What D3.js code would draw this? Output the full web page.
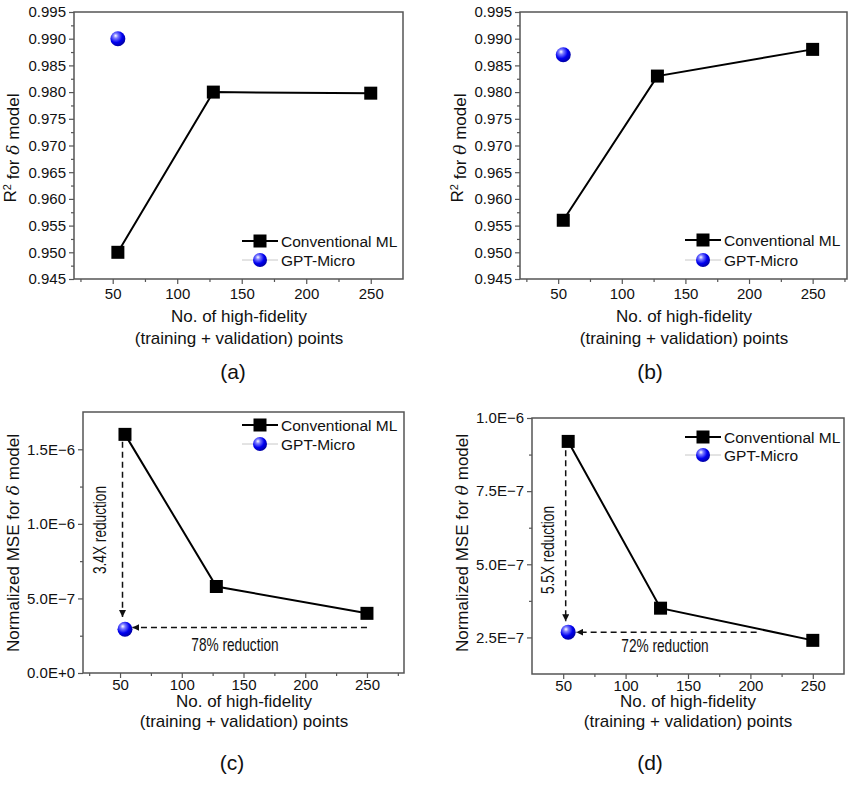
<!DOCTYPE html>
<html lang="en">
<head>
<meta charset="UTF-8">
<title>GPT-Micro vs Conventional ML</title>
<script src="https://d3js.org/d3.v7.min.js"></script>
<style>
  body { margin: 0; background: #fff; }
  text { font-family: "Liberation Sans", Arial, sans-serif; fill: #111; }
</style>
</head>
<body>
<svg id="fig" width="854" height="785"></svg>
<script>
// ---- data ----
const seriesNames = ["Conventional ML", "GPT-Micro"];
const hfPoints = [54, 128, 250];
const gptPoints = [54];

const r2DeltaML = [0.950, 0.980, 0.9798];
const r2DeltaGPT = [0.990];
const r2ThetaML = [0.956, 0.983, 0.988];
const r2ThetaGPT = [0.987];
const mseDeltaML = [1.6e-6, 5.8e-7, 4.0e-7];
const mseDeltaGPT = [2.93e-7];
const mseThetaML = [9.2e-7, 3.5e-7, 2.4e-7];
const mseThetaGPT = [2.68e-7];

const xTicks = [50, 100, 150, 200, 250];
const r2Ticks = [0.945, 0.950, 0.955, 0.960, 0.965, 0.970, 0.975, 0.980, 0.985, 0.990, 0.995];
const mseDeltaTicks = [0, 5e-7, 1e-6, 1.5e-6];
const mseDeltaTickLabels = ["0.0E+0", "5.0E\u22127", "1.0E\u22126", "1.5E\u22126"];
const mseThetaTicks = [2.5e-7, 5e-7, 7.5e-7, 1e-6];
const mseThetaTickLabels = ["2.5E\u22127", "5.0E\u22127", "7.5E\u22127", "1.0E\u22126"];

const panelLabels = ["(a)", "(b)", "(c)", "(d)"];
const xTitle = ["No. of high-fidelity", "(training + validation) points"];
const foldLabels = ["3.4X reduction", "5.5X reduction"];
const pctLabels = ["78% reduction", "72% reduction"];

const svg = d3.select("#fig");

const defs = svg.append("defs");
const grad = defs.append("radialGradient").attr("id", "ball")
  .attr("cx", "38%").attr("cy", "35%").attr("r", "65%").attr("fx", "35%").attr("fy", "30%");
grad.append("stop").attr("offset", "0%").attr("stop-color", "#ffffff");
grad.append("stop").attr("offset", "25%").attr("stop-color", "#7a7aff");
grad.append("stop").attr("offset", "65%").attr("stop-color", "#0000f0");
grad.append("stop").attr("offset", "100%").attr("stop-color", "#0000a8");
defs.append("marker").attr("id", "arrow")
  .attr("viewBox", "0 0 10 10").attr("refX", 10).attr("refY", 5)
  .attr("markerWidth", 7).attr("markerHeight", 7).attr("markerUnits", "userSpaceOnUse")
  .attr("orient", "auto")
  .append("path").attr("d", "M0,0 L10,5 L0,10 z").attr("fill", "#111");

function yTitle(t, greek) {
  t.append("tspan").text(greek.prefix);
  if (greek.sup) {
    t.append("tspan").attr("dy", "-0.45em").attr("font-size", "11px").text("2");
    t.append("tspan").attr("dy", "0.45em").text(" for ");
  } else {
    t.append("tspan").text(" for ");
  }
  t.append("tspan").attr("font-style", "italic").attr("font-family", "'DejaVu Serif', serif").text(greek.sym);
  t.append("tspan").text(" model");
}

function panel(p) {
  const g = svg.append("g");
  const x = d3.scaleLinear().domain(p.xDomain).range([p.left, p.right]);
  const y = d3.scaleLinear().domain(p.yDomain).range([p.bottom, p.top]);

  const clean = sel => {
    sel.select(".domain").remove();
    sel.selectAll(".tick line").attr("stroke", "#555").attr("stroke-width", 1.2);
    sel.selectAll("text").attr("font-size", "15px").attr("fill", "#111")
      .attr("font-family", "'Liberation Sans', Arial, sans-serif");
  };

  const xMinor = d3.range(25, p.xDomain[1], 25).filter(v => v > p.xDomain[0] && !xTicks.includes(v));
  g.append("g").attr("transform", `translate(0,${p.bottom})`)
    .call(d3.axisBottom(x).tickValues(xMinor).tickSize(3).tickFormat(""))
    .call(clean);
  g.append("g").attr("transform", `translate(0,${p.bottom})`)
    .call(d3.axisBottom(x).tickValues(xTicks).tickSize(5).tickPadding(p.xPad).tickFormat(d3.format("d")))
    .call(clean);

  g.append("g").attr("transform", `translate(${p.left},0)`)
    .call(d3.axisLeft(y).tickValues(p.yMinor).tickSize(3).tickFormat(""))
    .call(clean);
  g.append("g").attr("transform", `translate(${p.left},0)`)
    .call(d3.axisLeft(y).tickValues(p.yTicks).tickSize(5).tickPadding(3)
      .tickFormat((d, i) => p.yLabels[i]))
    .call(clean);

  g.append("rect")
    .attr("x", p.left).attr("y", p.top)
    .attr("width", p.right - p.left).attr("height", p.bottom - p.top)
    .attr("fill", "none").attr("stroke", "#555").attr("stroke-width", 1.5);

  // axis titles
  const yt = g.append("text")
    .attr("transform", `translate(${p.yTitleX},${p.yTitleY}) rotate(-90)`)
    .attr("text-anchor", "middle").attr("font-size", "17px");
  yTitle(yt, p.yTitle);

  g.selectAll(".xt").data(xTitle).enter().append("text")
    .attr("x", p.titleX).attr("y", (d, i) => p.titleY[i])
    .attr("text-anchor", "middle").attr("font-size", "17px")
    .text(d => d);
  g.append("text").attr("x", p.labelX).attr("y", p.labelY)
    .attr("text-anchor", "middle").attr("font-size", "21px").text(p.label);

  // annotations (c, d)
  if (p.note) {
    const n = p.note;
    g.append("line")
      .attr("x1", x(n.vx)).attr("x2", x(n.vx))
      .attr("y1", y(n.vFrom)).attr("y2", y(n.vTo))
      .attr("stroke", "#111").attr("stroke-width", 1.5).attr("stroke-dasharray", "6,4")
      .attr("marker-end", "url(#arrow)");
    g.append("line")
      .attr("x1", x(n.hFrom)).attr("x2", x(n.hTo))
      .attr("y1", y(n.hy)).attr("y2", y(n.hy))
      .attr("stroke", "#111").attr("stroke-width", 1.5).attr("stroke-dasharray", "6,4")
      .attr("marker-end", "url(#arrow)");
    // condensed look: squeeze the text horizontally
    g.append("text")
      .attr("transform", `translate(${n.foldX},${n.foldY}) rotate(-90) scale(0.76,1)`)
      .attr("text-anchor", "middle").attr("dy", "0.35em").attr("font-size", "18px")
      .attr("fill", "#333").text(n.fold);
    g.append("text")
      .attr("transform", `translate(${n.pctX},${n.pctY}) scale(0.76,1)`)
      .attr("text-anchor", "middle").attr("font-size", "18px")
      .attr("fill", "#333").text(n.pct);
  }

  // series
  const ml = hfPoints.map((v, i) => [v, p.ml[i]]);
  g.append("path").datum(ml)
    .attr("d", d3.line().x(d => x(d[0])).y(d => y(d[1])))
    .attr("fill", "none").attr("stroke", "#000").attr("stroke-width", 2);
  g.selectAll(".sq").data(ml).enter().append("rect")
    .attr("x", d => x(d[0]) - 6.5).attr("y", d => y(d[1]) - 6.5)
    .attr("width", 13).attr("height", 13).attr("fill", "#000");
  g.selectAll(".ball").data(gptPoints.map((v, i) => [v, p.gpt[i]])).enter().append("circle")
    .attr("cx", d => x(d[0])).attr("cy", d => y(d[1])).attr("r", 7.5)
    .attr("fill", "url(#ball)");

  // legend
  const lg = g.append("g").attr("transform", `translate(${p.legX},${p.legY})`);
  lg.append("line").attr("x1", 0).attr("x2", 36).attr("y1", 0).attr("y2", 0)
    .attr("stroke", "#000").attr("stroke-width", 2);
  lg.append("rect").attr("x", 11.5).attr("y", -6.5).attr("width", 13).attr("height", 13).attr("fill", "#000");
  lg.append("line").attr("x1", 0).attr("x2", 36).attr("y1", p.legGap).attr("y2", p.legGap)
    .attr("stroke", "#c8c8c8").attr("stroke-width", 1);
  lg.append("circle").attr("cx", 18).attr("cy", p.legGap).attr("r", 7).attr("fill", "url(#ball)");
  lg.selectAll(".lt").data(seriesNames).enter().append("text")
    .attr("x", 39).attr("y", (d, i) => i * p.legGap).attr("dy", "0.36em")
    .attr("font-size", "15.5px").text(d => d);
}

const r2Minor = d3.range(0.9475, 0.995, 0.005);

panel({
  left: 74, right: 403, top: 12, bottom: 279, xPad: 4,
  xDomain: [20, 275], yDomain: [0.945, 0.995],
  yTicks: r2Ticks, yLabels: r2Ticks.map(d3.format(".3f")), yMinor: r2Minor,
  ml: r2DeltaML, gpt: r2DeltaGPT,
  yTitle: { prefix: "R", sup: true, sym: "\u03B4" }, yTitleX: 16, yTitleY: 148,
  titleX: 239, titleY: [322, 344], label: panelLabels[0], labelX: 233, labelY: 379,
  legX: 242, legY: 241, legGap: 19
});

panel({
  left: 520, right: 847, top: 12, bottom: 279, xPad: 4,
  xDomain: [20, 277], yDomain: [0.945, 0.995],
  yTicks: r2Ticks, yLabels: r2Ticks.map(d3.format(".3f")), yMinor: r2Minor,
  ml: r2ThetaML, gpt: r2ThetaGPT,
  yTitle: { prefix: "R", sup: true, sym: "\u03B8" }, yTitleX: 463, yTitleY: 148,
  titleX: 684, titleY: [322, 344], label: panelLabels[1], labelX: 650, labelY: 379,
  legX: 685, legY: 240, legGap: 20
});

panel({
  left: 83, right: 404, top: 412, bottom: 673, xPad: 1,
  xDomain: [20, 280], yDomain: [0, 1.75e-6],
  yTicks: mseDeltaTicks, yLabels: mseDeltaTickLabels, yMinor: [2.5e-7, 7.5e-7, 1.25e-6],
  ml: mseDeltaML, gpt: mseDeltaGPT,
  yTitle: { prefix: "Normalized MSE", sup: false, sym: "\u03B4" }, yTitleX: 19, yTitleY: 543,
  titleX: 244, titleY: [707, 727], label: panelLabels[2], labelX: 232, labelY: 770,
  legX: 242, legY: 425, legGap: 19,
  note: { vx: 52, vFrom: 1.55e-6, vTo: 3.75e-7, hFrom: 250, hTo: 60, hy: 3.05e-7,
          fold: foldLabels[0], foldX: 100, foldY: 530, pct: pctLabels[0], pctX: 235, pctY: 651 }
});

panel({
  left: 532, right: 844, top: 418, bottom: 674, xPad: 1,
  xDomain: [25, 275], yDomain: [1.25e-7, 1e-6],
  yTicks: mseThetaTicks, yLabels: mseThetaTickLabels, yMinor: [3.75e-7, 6.25e-7, 8.75e-7],
  ml: mseThetaML, gpt: mseThetaGPT,
  yTitle: { prefix: "Normalized MSE", sup: false, sym: "\u03B8" }, yTitleX: 468, yTitleY: 543,
  titleX: 688, titleY: [707, 727], label: panelLabels[3], labelX: 650, labelY: 770,
  legX: 685, legY: 437, legGap: 18,
  note: { vx: 52, vFrom: 8.9e-7, vTo: 3.05e-7, hFrom: 205, hTo: 60.5, hy: 2.68e-7,
          fold: foldLabels[1], foldX: 548, foldY: 550, pct: pctLabels[1], pctX: 665, pctY: 652 }
});
</script>
</body>
</html>
